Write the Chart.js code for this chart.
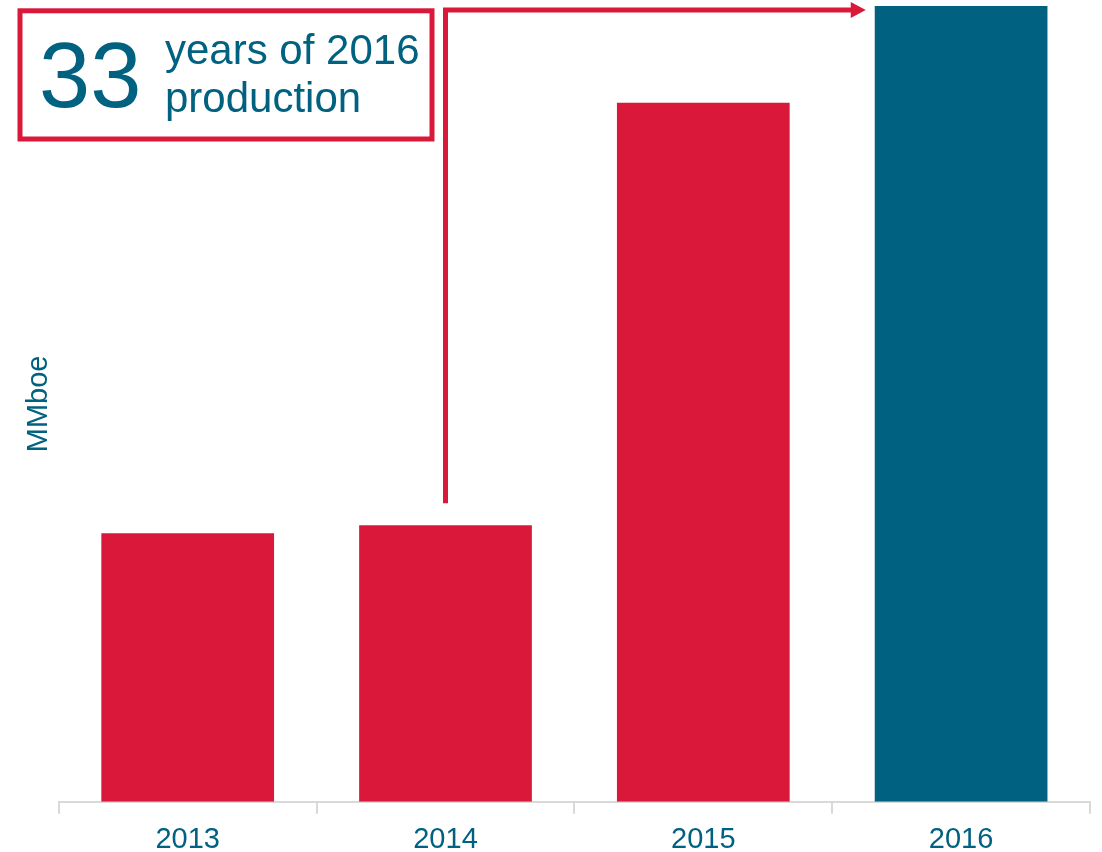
<!DOCTYPE html>
<html>
<head>
<meta charset="utf-8">
<script src="https://cdn.jsdelivr.net/npm/chart.js@4.4.0/dist/chart.umd.min.js"></script>
<style>
  html, body { margin: 0; padding: 0; background: #fff; }
  #wrap { width: 1102px; height: 852px; }
</style>
</head>
<body>
<div id="wrap"><canvas id="reserves"></canvas></div>
<script>
const years = ['2013', '2014', '2015', '2016'];
const reserves = [269, 277, 700, 797];   // MMboe
const barColors = ['#da1839', '#da1839', '#da1839', '#006280'];
const calloutNumber = '33';
const calloutLines = ['years of 2016', 'production'];

const RED = '#da1839';
const TEAL = '#006280';
const FONT = '"Liberation Sans", Arial, sans-serif';

// callout box in the top left and the arrow from 2014 over to 2016
const callout = {
    id: 'callout',
    afterDatasetsDraw(chart) {
        const ctx = chart.ctx;
        const x = chart.scales.x;
        const y = chart.scales.y;
        const bars = chart.getDatasetMeta(0).data;

        ctx.save();
        ctx.strokeStyle = RED;
        ctx.fillStyle = RED;
        ctx.lineWidth = 5;
        ctx.strokeRect(20, 10.8, 412, 128.2);

        const ax = x.getPixelForValue(1);
        const yStart = y.getPixelForValue(reserves[1]) - 22;
        const yTop = y.getPixelForValue(reserves[3]) + 4;
        const tip = bars[3].x - bars[3].width / 2 - 9;
        ctx.beginPath();
        ctx.moveTo(ax, yStart);
        ctx.lineTo(ax, yTop);
        ctx.lineTo(tip - 14, yTop);
        ctx.stroke();
        ctx.beginPath();
        ctx.moveTo(tip, yTop);
        ctx.lineTo(tip - 15, yTop - 8);
        ctx.lineTo(tip - 15, yTop + 8);
        ctx.closePath();
        ctx.fill();

        ctx.fillStyle = TEAL;
        ctx.textBaseline = 'alphabetic';
        ctx.textAlign = 'left';
        ctx.font = '92px ' + FONT;
        ctx.fillText(calloutNumber, 39, 107);
        ctx.font = '42px ' + FONT;
        ctx.fillText(calloutLines[0], 165, 64);
        ctx.fillText(calloutLines[1], 165, 112);
        ctx.restore();
    }
};

window.onload = () => {
    const ctx = document.getElementById('reserves').getContext('2d');
    new Chart(ctx, {
        type: 'bar',
        data: {
            labels: years,
            datasets: [{
                data: reserves,
                backgroundColor: barColors,
                categoryPercentage: 1,
                barPercentage: 0.67
            }]
        },
        options: {
            responsive: true,
            maintainAspectRatio: false,
            animation: false,
            layout: { padding: { top: 6, right: 12, left: 0, bottom: -15 } },
            plugins: { legend: { display: false }, tooltip: { enabled: false } },
            scales: {
                x: {
                    grid: { display: true, drawOnChartArea: false, color: '#d9d9d9', lineWidth: 2, tickLength: 12 },
                    border: { display: true, color: '#d9d9d9', width: 2 },
                    ticks: { color: TEAL, padding: 15, font: { family: FONT, size: 29, lineHeight: 0.8 } }
                },
                y: {
                    min: 0,
                    max: 797,
                    grid: { display: false, drawTicks: false, tickLength: 0 },
                    border: { display: false },
                    ticks: { display: false },
                    title: {
                        display: true,
                        text: 'MMboe',
                        color: TEAL,
                        font: { family: FONT, size: 29, lineHeight: 1.2 },
                        padding: { top: 22, bottom: 2 }
                    }
                }
            }
        },
        plugins: [callout]
    });
};
</script>
</body>
</html>
